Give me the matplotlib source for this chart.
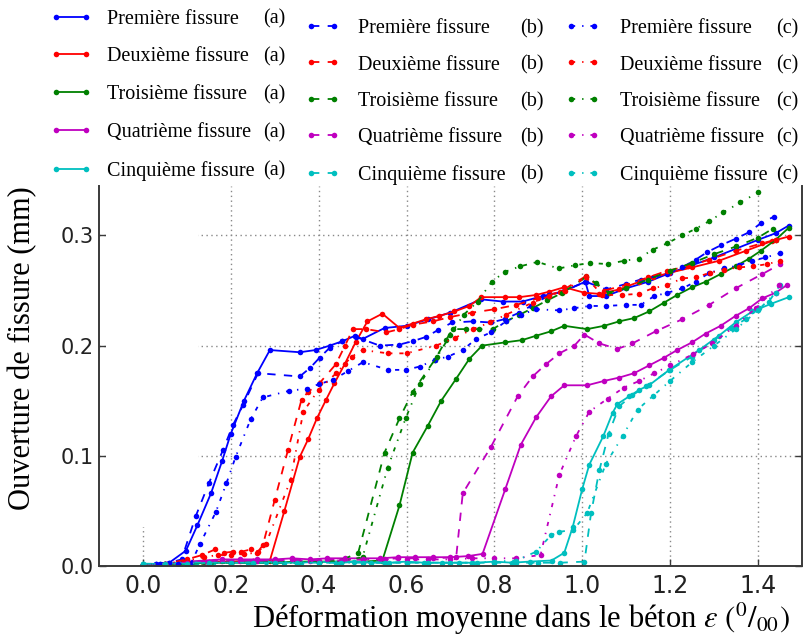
import matplotlib
matplotlib.use("Agg")
import matplotlib.pyplot as plt
from matplotlib.patches import Rectangle

# ---- data ----
# (a) solid
x1a = [0.0, 0.03, 0.06, 0.098, 0.124, 0.155, 0.18, 0.2, 0.23, 0.26, 0.289,
       0.357, 0.393, 0.425, 0.454, 0.483, 0.5, 0.55, 0.6, 0.65, 0.7, 0.77,
       0.819, 0.864, 0.91, 0.955, 1.007, 1.016, 1.054,
       1.1, 1.15, 1.2, 1.25, 1.3, 1.35, 1.4, 1.44, 1.47]
y1a = [0.001, 0.002, 0.003, 0.014, 0.037, 0.066, 0.095, 0.12, 0.15, 0.175, 0.196,
       0.194, 0.196, 0.2, 0.204, 0.209, 0.206, 0.216, 0.218, 0.224, 0.23, 0.242,
       0.24, 0.24, 0.245, 0.249, 0.258, 0.245, 0.245,
       0.252, 0.258, 0.266, 0.273, 0.28, 0.288, 0.296, 0.302, 0.309]

x2a = [0.0, 0.05, 0.1, 0.15, 0.2, 0.25, 0.289, 0.322,
       0.357, 0.376, 0.396, 0.417, 0.436, 0.459, 0.484, 0.511, 0.545,
       0.584, 0.614, 0.645, 0.675, 0.709, 0.743, 0.77,
       0.823, 0.857, 0.895, 0.925, 0.959, 1.005,
       1.039, 1.084, 1.13, 1.16, 1.198, 1.25, 1.311, 1.372, 1.432, 1.47]
y2a = [0.001, 0.002, 0.003, 0.004, 0.004, 0.005, 0.005, 0.05,
       0.099, 0.115, 0.134, 0.151, 0.166, 0.183, 0.203, 0.222, 0.229,
       0.216, 0.22, 0.224, 0.227, 0.231, 0.236, 0.244,
       0.244, 0.244, 0.246, 0.249, 0.253, 0.248,
       0.247, 0.251, 0.258, 0.262, 0.266, 0.271, 0.277, 0.286, 0.295, 0.299]

x3a = [0.0, 0.05, 0.1, 0.15, 0.2, 0.25, 0.3, 0.35, 0.4, 0.45, 0.5, 0.545,
       0.584, 0.614, 0.648, 0.679, 0.713, 0.743, 0.772,
       0.825, 0.863, 0.895, 0.929, 0.959,
       1.011, 1.05, 1.084, 1.118, 1.152, 1.186, 1.216, 1.25, 1.281, 1.315,
       1.349, 1.38, 1.406, 1.44, 1.47]
y3a = [0.001, 0.002, 0.002, 0.003, 0.003, 0.003, 0.003, 0.004, 0.004, 0.004, 0.004, 0.005,
       0.055, 0.103, 0.127, 0.15, 0.17, 0.188, 0.2,
       0.203, 0.205, 0.209, 0.213, 0.218,
       0.215, 0.218, 0.222, 0.225, 0.231, 0.239, 0.246, 0.253, 0.258, 0.265,
       0.272, 0.279, 0.286, 0.296, 0.307]

x4a = [0.0, 0.05, 0.1, 0.14, 0.18, 0.22, 0.26, 0.3, 0.34, 0.38, 0.42, 0.46,
       0.5, 0.54, 0.58, 0.62, 0.66, 0.7, 0.74, 0.773,
       0.825, 0.86, 0.895, 0.929, 0.959,
       1.011, 1.05, 1.084, 1.118, 1.152, 1.186, 1.216, 1.25, 1.281, 1.315,
       1.349, 1.38, 1.41, 1.44, 1.466]
y4a = [0.001, 0.002, 0.004, 0.005, 0.006, 0.006, 0.006, 0.006, 0.007, 0.006, 0.007, 0.007,
       0.007, 0.007, 0.008, 0.008, 0.008, 0.008, 0.009, 0.011,
       0.07, 0.11, 0.135, 0.154, 0.164,
       0.164, 0.168, 0.171, 0.175, 0.182, 0.189, 0.196, 0.203, 0.211, 0.218,
       0.227, 0.234, 0.243, 0.248, 0.255]

x5a = [0.0, 0.04, 0.08, 0.12, 0.16, 0.2, 0.24, 0.28, 0.32, 0.36, 0.4, 0.44,
       0.48, 0.52, 0.56, 0.6, 0.64, 0.68, 0.72, 0.76, 0.8, 0.84, 0.88,
       0.93, 0.959, 0.978, 1.0,
       1.016, 1.048, 1.069, 1.08, 1.107, 1.13, 1.152,
       1.198, 1.266, 1.311, 1.349, 1.387, 1.43, 1.47]
y5a = [0.002, 0.002, 0.003, 0.003, 0.003, 0.003, 0.003, 0.004, 0.003, 0.003, 0.004, 0.003,
       0.004, 0.003, 0.003, 0.004, 0.003, 0.003, 0.003, 0.003, 0.004, 0.003, 0.004,
       0.005, 0.012, 0.035, 0.07,
       0.092, 0.118, 0.139, 0.147, 0.154, 0.16, 0.164,
       0.178, 0.196, 0.209, 0.221, 0.231, 0.238, 0.244]

# (b) dashed
x1b = [0.0, 0.03, 0.06, 0.088, 0.12, 0.15, 0.182, 0.205, 0.228, 0.262,
       0.357, 0.381, 0.402, 0.425, 0.454, 0.484,
       0.539, 0.584, 0.614, 0.645, 0.671, 0.704, 0.751, 0.792,
       0.823, 0.857, 0.883, 0.925, 0.955, 1.008, 1.054,
       1.1, 1.133, 1.194, 1.227, 1.258, 1.285, 1.315, 1.349, 1.38, 1.406, 1.436]
y1b = [0.001, 0.002, 0.003, 0.006, 0.045, 0.075, 0.105, 0.128, 0.146, 0.175,
       0.172, 0.18, 0.189, 0.198, 0.204, 0.208,
       0.2, 0.201, 0.204, 0.208, 0.214, 0.221, 0.222, 0.221,
       0.224, 0.23, 0.236, 0.246, 0.249, 0.258, 0.251,
       0.256, 0.26, 0.265, 0.271, 0.278, 0.285, 0.291, 0.297, 0.303, 0.311, 0.317]

x2b = [0.0, 0.05, 0.1, 0.135, 0.164, 0.184, 0.205, 0.224, 0.245, 0.262, 0.273,
       0.3, 0.33, 0.361, 0.376, 0.402, 0.439, 0.46, 0.478, 0.508,
       0.554, 0.584, 0.614, 0.66, 0.7, 0.75, 0.8, 0.85, 0.9, 0.95,
       1.008, 1.05, 1.1, 1.15, 1.194, 1.24, 1.289, 1.349, 1.41, 1.44]
y2b = [0.001, 0.002, 0.006, 0.01, 0.015, 0.012, 0.013, 0.013, 0.015, 0.013, 0.019,
       0.06, 0.105, 0.151, 0.158, 0.166, 0.183, 0.2, 0.215, 0.215,
       0.212, 0.215, 0.219, 0.222, 0.226, 0.23, 0.233, 0.237, 0.243, 0.249,
       0.263, 0.25, 0.255, 0.262, 0.268, 0.272, 0.278, 0.286, 0.293, 0.296]

x3b = [0.0, 0.05, 0.1, 0.15, 0.2, 0.25, 0.3, 0.35, 0.4, 0.45, 0.49,
       0.55, 0.584, 0.614, 0.664, 0.69, 0.705,
       0.736, 0.766, 0.796, 0.826, 0.857, 0.887, 0.92, 0.955,
       1.008, 1.031, 1.06, 1.1, 1.15, 1.2, 1.25, 1.3, 1.35, 1.4, 1.433]
y3b = [0.001, 0.002, 0.002, 0.003, 0.003, 0.003, 0.004, 0.004, 0.004, 0.005, 0.012,
       0.103, 0.134, 0.158, 0.187, 0.205, 0.215,
       0.215, 0.215, 0.215, 0.222, 0.228, 0.234, 0.241, 0.248,
       0.262, 0.257, 0.248, 0.252, 0.26, 0.268, 0.275, 0.283, 0.29, 0.298, 0.306]

x4b = [0.0, 0.05, 0.1, 0.14, 0.18, 0.22, 0.26, 0.3, 0.34, 0.38, 0.42, 0.46,
       0.5, 0.54, 0.58, 0.62, 0.66,
       0.713, 0.728, 0.792, 0.853, 0.887, 0.917, 0.948, 0.982, 1.005,
       1.039, 1.08, 1.114, 1.167, 1.228, 1.289, 1.349, 1.41, 1.451]
y4b = [0.001, 0.002, 0.003, 0.004, 0.005, 0.005, 0.005, 0.005, 0.006, 0.005, 0.006, 0.006,
       0.006, 0.006, 0.007, 0.007, 0.007,
       0.008, 0.066, 0.108, 0.154, 0.172, 0.183, 0.193, 0.2, 0.21,
       0.202, 0.197, 0.202, 0.213, 0.224, 0.237, 0.252, 0.265, 0.274]

x5b = [0.0, 0.05, 0.1, 0.15, 0.2, 0.25, 0.3, 0.35, 0.4, 0.45, 0.5, 0.55,
       0.6, 0.65, 0.7, 0.75, 0.8, 0.85, 0.9, 0.95,
       1.005, 1.02, 1.039, 1.06, 1.084, 1.114, 1.145,
       1.2, 1.25, 1.3, 1.338, 1.372, 1.402, 1.425, 1.45]
y5b = [0.002, 0.002, 0.003, 0.003, 0.003, 0.003, 0.003, 0.003, 0.003, 0.003, 0.004, 0.003,
       0.003, 0.003, 0.003, 0.003, 0.003, 0.003, 0.003, 0.003,
       0.004, 0.048, 0.087, 0.12, 0.145, 0.155, 0.163,
       0.178, 0.19, 0.205, 0.216, 0.224, 0.234, 0.24, 0.255]

# (c) dash-dot
x1c = [0.0, 0.04, 0.08, 0.11, 0.13, 0.166, 0.19, 0.211, 0.245, 0.273,
       0.333, 0.373, 0.4, 0.433, 0.467, 0.501,
       0.558, 0.598, 0.63, 0.664, 0.694, 0.728, 0.758, 0.792, 0.826, 0.86, 0.895,
       0.948, 0.982, 1.016, 1.054, 1.099, 1.133,
       1.164, 1.194, 1.228, 1.258, 1.289, 1.323, 1.357, 1.387, 1.417, 1.451]
y1c = [0.001, 0.002, 0.002, 0.003, 0.02, 0.049, 0.075, 0.099, 0.133, 0.153,
       0.159, 0.161, 0.165, 0.169, 0.177, 0.185,
       0.178, 0.178, 0.181, 0.187, 0.19, 0.196, 0.206, 0.212, 0.222, 0.228, 0.233,
       0.232, 0.234, 0.236, 0.236, 0.237, 0.237,
       0.245, 0.248, 0.252, 0.258, 0.266, 0.27, 0.273, 0.277, 0.28, 0.284]

x2c = [0.0, 0.05, 0.1, 0.14, 0.17, 0.2, 0.23, 0.26, 0.28,
       0.336, 0.365, 0.4, 0.44, 0.475, 0.5,
       0.558, 0.6, 0.667, 0.71, 0.751, 0.79, 0.826,
       0.887, 0.925, 0.96, 1.008,
       1.046, 1.09, 1.128, 1.16, 1.194, 1.227, 1.258, 1.29, 1.323, 1.357, 1.389, 1.421, 1.451]
y2c = [0.001, 0.002, 0.005, 0.008, 0.01, 0.01, 0.011, 0.012, 0.02,
       0.078, 0.14, 0.16, 0.175, 0.19, 0.196,
       0.193, 0.193, 0.2, 0.207, 0.215, 0.221, 0.228,
       0.239, 0.245, 0.25, 0.262,
       0.246, 0.246, 0.247, 0.252, 0.255, 0.261, 0.262, 0.266, 0.269, 0.271, 0.272, 0.274, 0.277]

x3c = [0.0, 0.05, 0.1, 0.15, 0.2, 0.25, 0.3, 0.35, 0.4, 0.45, 0.5,
       0.557, 0.598, 0.63, 0.67, 0.7, 0.73, 0.762,
       0.794, 0.824, 0.859, 0.898, 0.946, 0.984, 1.018, 1.058,
       1.095, 1.128, 1.16, 1.194, 1.227, 1.258, 1.289, 1.321, 1.36, 1.4]
y3c = [0.001, 0.001, 0.002, 0.002, 0.003, 0.003, 0.003, 0.003, 0.004, 0.004, 0.008,
       0.089, 0.134, 0.165, 0.19, 0.21, 0.228, 0.24,
       0.258, 0.267, 0.272, 0.276, 0.27, 0.273, 0.275, 0.274,
       0.277, 0.279, 0.287, 0.293, 0.3, 0.306, 0.313, 0.321, 0.33, 0.339]

x4c = [0.0, 0.05, 0.1, 0.15, 0.2, 0.25, 0.3, 0.35, 0.4, 0.45, 0.5, 0.55,
       0.6, 0.65, 0.7, 0.75, 0.8, 0.85,
       0.905, 0.948, 0.986, 1.016,
       1.058, 1.095, 1.13, 1.164, 1.2, 1.251, 1.296, 1.349, 1.395, 1.448]
y4c = [0.001, 0.002, 0.003, 0.004, 0.004, 0.005, 0.005, 0.005, 0.005, 0.005, 0.006, 0.006,
       0.006, 0.006, 0.006, 0.007, 0.007, 0.007,
       0.01, 0.083, 0.118, 0.14,
       0.152, 0.162, 0.168, 0.175, 0.182, 0.192, 0.202, 0.218, 0.234, 0.255]

x5c = [0.0, 0.05, 0.1, 0.15, 0.2, 0.25, 0.3, 0.35, 0.4, 0.45, 0.5, 0.55,
       0.6, 0.65, 0.7, 0.75, 0.8, 0.85,
       0.895, 0.929, 0.948, 0.98, 1.011,
       1.054, 1.092, 1.126, 1.16, 1.2, 1.25, 1.3, 1.35, 1.4, 1.44]
y5c = [0.002, 0.002, 0.002, 0.003, 0.003, 0.003, 0.003, 0.003, 0.003, 0.003, 0.003, 0.003,
       0.003, 0.003, 0.003, 0.003, 0.004, 0.005,
       0.013, 0.028, 0.031, 0.033, 0.048,
       0.093, 0.118, 0.142, 0.154, 0.168, 0.185, 0.2, 0.215, 0.232, 0.248]

names = ["Première fissure", "Deuxième fissure", "Troisième fissure",
         "Quatrième fissure", "Cinquième fissure"]
tags = ["(a)", "(b)", "(c)"]
colors = [(0, 0, 1), (1, 0, 0), (0, 0.5, 0), (0.75, 0, 0.75), (0, 0.75, 0.75)]
styles = ["-", (0, (6, 6)), (0, (3, 5, 1, 5))]

groups = [
    [(x1a, y1a), (x2a, y2a), (x3a, y3a), (x4a, y4a), (x5a, y5a)],
    [(x1b, y1b), (x2b, y2b), (x3b, y3b), (x4b, y4b), (x5b, y5b)],
    [(x1c, y1c), (x2c, y2c), (x3c, y3c), (x4c, y4c), (x5c, y5c)],
]

plt.rcParams["lines.scale_dashes"] = False
plt.rcParams["mathtext.fontset"] = "stix"

fig = plt.figure(figsize=(8.08, 6.4), dpi=100, facecolor="white")
ax = fig.add_axes([0.1225, 0.1156, 0.870, 0.594])

handles = [[], [], []]
for g, series in enumerate(groups):
    for k, (xs, ys) in enumerate(series):
        h, = ax.plot(xs, ys, color=colors[k], linestyle=styles[g], linewidth=1.3,
                     marker="o", markersize=4, markeredgewidth=0)
        handles[g].append(h)

ax.set_xlim(-0.1, 1.5)
ax.set_ylim(0, 0.345)
ax.set_xticks([0.0, 0.2, 0.4, 0.6, 0.8, 1.0, 1.2, 1.4])
ax.set_yticks([0.0, 0.1, 0.2, 0.3])
ax.grid(True, color="#888888", linestyle=(0, (1, 2.5)), linewidth=1)

# blank patch in the upper-left corner (no grid there in the original)
ax.add_patch(Rectangle((-0.083, 0.035), 0.208, 0.4, facecolor="white",
                       edgecolor="none", zorder=1.8))

for side in ["left", "right", "bottom"]:
    ax.spines[side].set_color("#3a3a3a")
    ax.spines[side].set_linewidth(1.4)
ax.spines["top"].set_visible(False)
ax.tick_params(direction="in", length=5, width=1, color="#3a3a3a",
               right=True, top=False, labelcolor="#222222")
ax.tick_params(axis="y", labelsize=15, pad=4)
ax.tick_params(axis="x", labelsize=17, pad=6)
for lab in ax.get_xticklabels() + ax.get_yticklabels():
    lab.set_family("DejaVu Sans")

ax.set_ylabel("Ouverture de fissure (mm)", family="Liberation Serif", fontsize=22)
ax.yaxis.set_label_coords(-0.088, 0.574)
ax.set_xlabel("Déformation moyenne dans le béton $\\varepsilon$ $(^0/_{00})$",
              family="Liberation Serif", fontsize=22, va="center")
ax.xaxis.set_label_coords(0.6, -0.138)

# three legend columns
leg_font = {"family": "Liberation Serif", "size": 14.5}
leg_specs = [
    (0.0619, 1 - 9.5 / 640, 2.1, 0.75, 0.93),
    (0.3775, 1 - 19.0 / 640, 1.75, 0.9, 0.86),
    (0.6993, 1 - 19.0 / 640, 1.75, 1.0, 0.86),
]
legends = []
for g, (lx, ly, hl, hp, ls) in enumerate(leg_specs):
    leg = fig.legend(handles[g], names, loc="upper left", bbox_to_anchor=(lx, ly),
                     frameon=False, prop=leg_font, handlelength=hl, handletextpad=hp,
                     labelspacing=ls, borderpad=0, borderaxespad=0, numpoints=2)
    legends.append(leg)

fig.canvas.draw()
tag_x = [263 / 808, 520 / 808, 776 / 808]
for g, leg in enumerate(legends):
    for t in leg.get_texts():
        bb = t.get_window_extent()
        yc = (bb.y0 + bb.y1) / 2 / fig.bbox.height
        fig.text(tag_x[g], yc, tags[g], ha="left", va="center",
                 family="Liberation Serif", fontsize=14.5)

fig.savefig("out.png", dpi=100)
